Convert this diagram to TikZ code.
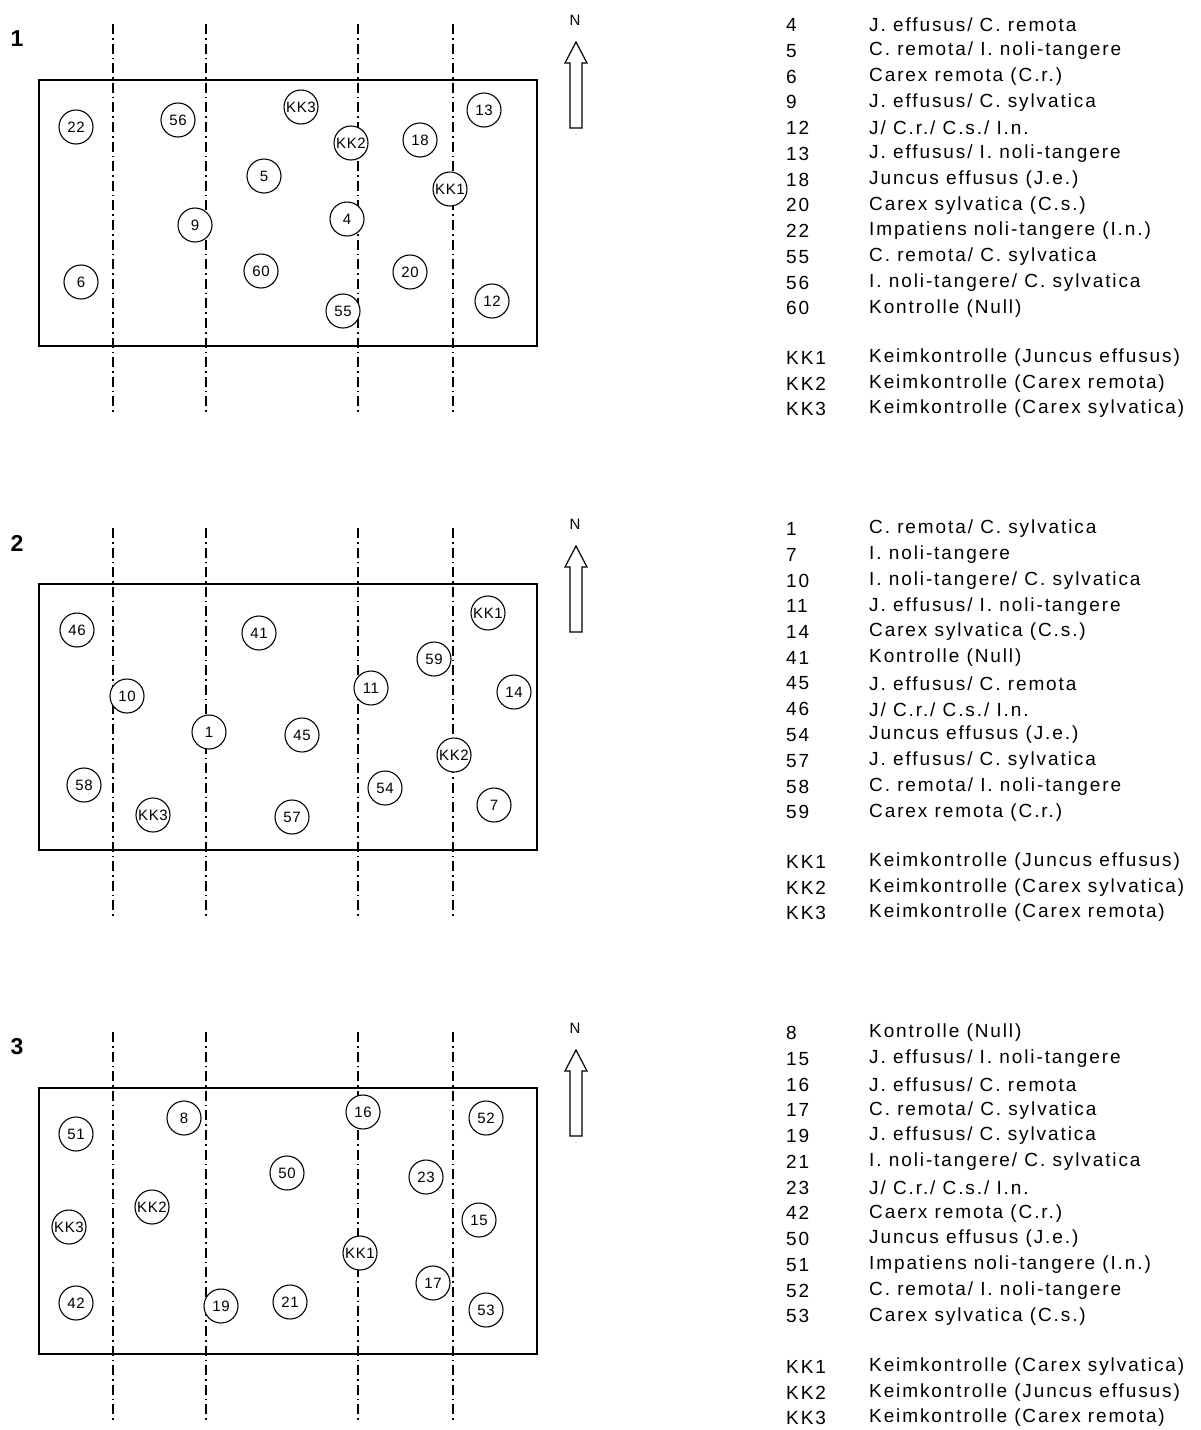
\documentclass[tikz,border=0pt]{standalone}
\usepackage{fontspec}
\setmainfont{Liberation Sans}
\newfontfamily\legfont[LetterSpace=10]{Liberation Sans}
\newfontfamily\cirfont[LetterSpace=4]{Liberation Sans}
\begin{document}
\begin{tikzpicture}[x=1pt,y=-1pt,
  plotbox/.style={line width=1.4pt},
  axisline/.style={line width=1.2pt,dash pattern=on 10pt off 4pt on 1.6pt off 4pt},
  plot/.style={circle,draw,fill=white,line width=1.1pt,minimum size=34pt,inner sep=0pt,font=\cirfont\fontsize{15}{17}\selectfont},
  legnum/.style={anchor=west,inner sep=0pt,font=\legfont\fontsize{19}{21}\selectfont},
  legtxt/.style={anchor=west,inner sep=0pt,font=\legfont\fontsize{19}{21}\selectfont},
  panelno/.style={font=\bfseries\fontsize{23}{26}\selectfont,inner sep=0pt},
  northarrow/.style={line width=1.2pt,fill=white}
]
\useasboundingbox (0,0) rectangle (1201,1430);
\fill[white] (0,0) rectangle (1201,1430);

% ---------- three panels ----------
\foreach \p/\oy in {1/0,2/504,3/1008}{
  \begin{scope}[yshift=-\oy pt]
    \node[panelno] (no\p) at (17,39) {\p};
    \draw[plotbox] (39,80) rectangle (537,346);
    \foreach \lx/\k in {113/a,206/b,358/c,453/d}{
      \coordinate (top\p\k) at (\lx,24);
      \coordinate (bot\p\k) at (\lx,415);
      \draw[axisline] (top\p\k) -- (bot\p\k);
    }
    % north arrow
    \node[font=\fontsize{15}{17}\selectfont,inner sep=0pt] (N\p) at (575,20) {N};
    \draw[northarrow] (570,128) -- (570,63) -- (565,63) -- (576,42) -- (587,63) -- (582,63) -- (582,128) -- cycle;
  \end{scope}
}

% ---------- panel 1 plots ----------
\foreach \lab/\x/\y in {22/76/127,56/178/120,KK3/301/107,13/484/110,KK2/351/143,18/420/140,5/264/176,KK1/450/189,4/347/219,9/195/225,60/261/271,20/410/272,6/81/282,12/492/301,55/343/311}
  \node[plot] (p1-\lab) at (\x,\y) {\lab};

% ---------- panel 2 plots ----------
\foreach \lab/\x/\y in {46/77/630,41/259/633,KK1/488/613,59/434/659,10/127/696,11/371/688,14/514/692,1/209/732,45/302/735,KK2/454/755,58/84/785,54/385/788,7/494/805,KK3/153/815,57/292/817}
  \node[plot] (p2-\lab) at (\x,\y) {\lab};

% ---------- panel 3 plots ----------
\foreach \lab/\x/\y in {8/184/1118,16/363/1112,52/486/1118,51/76/1134,50/287/1173,23/426/1177,KK2/152/1207,15/479/1220,KK3/69/1227,KK1/360/1253,17/433/1283,42/76/1303,19/221/1306,21/290/1302,53/486/1310}
  \node[plot] (p3-\lab) at (\x,\y) {\lab};

% ---------- legends ----------
\foreach \i/\n/\t in {0/4/{J. effusus/ C. remota},1/5/{C. remota/ I. noli-tangere},2/6/{Carex remota (C.r.)},3/9/{J. effusus/ C. sylvatica},4/12/{J/ C.r./ C.s./ I.n.},5/13/{J. effusus/ I. noli-tangere},6/18/{Juncus effusus (J.e.)},7/20/{Carex sylvatica (C.s.)},8/22/{Impatiens noli-tangere (I.n.)},9/55/{C. remota/ C. sylvatica},10/56/{I. noli-tangere/ C. sylvatica},11/60/{Kontrolle (Null)}}{
  \node[legnum] (l1n\i) at (786,25+25.75*\i) {\n};
  \node[legtxt] (l1t\i) at (869,25+25.75*\i) {\t};
}
\foreach \i/\n/\t in {0/KK1/{Keimkontrolle (Juncus effusus)},1/KK2/{Keimkontrolle (Carex remota)},2/KK3/{Keimkontrolle (Carex sylvatica)}}{
  \node[legnum] (k1n\i) at (786,358+25.5*\i) {\n};
  \node[legtxt] (k1t\i) at (869,358+25.5*\i) {\t};
}

\foreach \i/\n/\t in {0/1/{C. remota/ C. sylvatica},1/7/{I. noli-tangere},2/10/{I. noli-tangere/ C. sylvatica},3/11/{J. effusus/ I. noli-tangere},4/14/{Carex sylvatica (C.s.)},5/41/{Kontrolle (Null)},6/45/{J. effusus/ C. remota},7/46/{J/ C.r./ C.s./ I.n.},8/54/{Juncus effusus (J.e.)},9/57/{J. effusus/ C. sylvatica},10/58/{C. remota/ I. noli-tangere},11/59/{Carex remota (C.r.)}}{
  \node[legnum] (l2n\i) at (786,529+25.75*\i) {\n};
  \node[legtxt] (l2t\i) at (869,529+25.75*\i) {\t};
}
\foreach \i/\n/\t in {0/KK1/{Keimkontrolle (Juncus effusus)},1/KK2/{Keimkontrolle (Carex sylvatica)},2/KK3/{Keimkontrolle (Carex remota)}}{
  \node[legnum] (k2n\i) at (786,862+25.5*\i) {\n};
  \node[legtxt] (k2t\i) at (869,862+25.5*\i) {\t};
}

\foreach \i/\n/\t in {0/8/{Kontrolle (Null)},1/15/{J. effusus/ I. noli-tangere},2/16/{J. effusus/ C. remota},3/17/{C. remota/ C. sylvatica},4/19/{J. effusus/ C. sylvatica},5/21/{I. noli-tangere/ C. sylvatica},6/23/{J/ C.r./ C.s./ I.n.},7/42/{Caerx remota (C.r.)},8/50/{Juncus effusus (J.e.)},9/51/{Impatiens noli-tangere (I.n.)},10/52/{C. remota/ I. noli-tangere},11/53/{Carex sylvatica (C.s.)}}{
  \node[legnum] (l3n\i) at (786,1033+25.75*\i) {\n};
  \node[legtxt] (l3t\i) at (869,1033+25.75*\i) {\t};
}
\foreach \i/\n/\t in {0/KK1/{Keimkontrolle (Carex sylvatica)},1/KK2/{Keimkontrolle (Juncus effusus)},2/KK3/{Keimkontrolle (Carex remota)}}{
  \node[legnum] (k3n\i) at (786,1367+25.5*\i) {\n};
  \node[legtxt] (k3t\i) at (869,1367+25.5*\i) {\t};
}
\end{tikzpicture}
\end{document}
